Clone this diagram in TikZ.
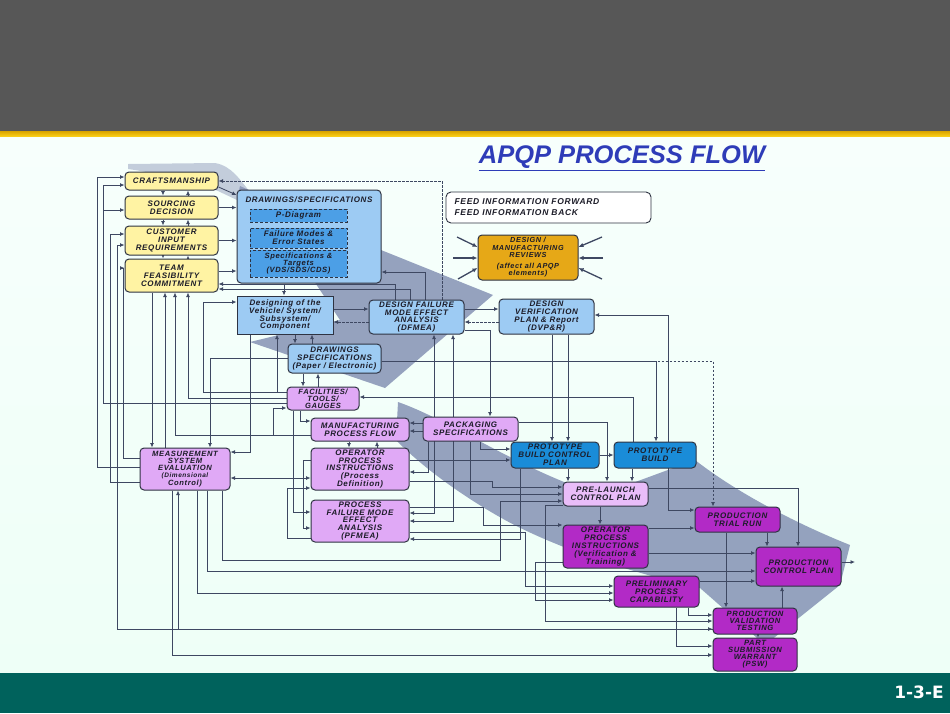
\documentclass[tikz,border=0pt]{standalone}
\usepackage{fontspec}
\setmainfont{Liberation Sans}
\newfontfamily\bx[LetterSpace=8]{Liberation Sans}
\newfontfamily\dejab{DejaVu Sans}
\usetikzlibrary{arrows.meta,calc}
\pgfdeclarelayer{back}\pgfdeclarelayer{bandlayer}\pgfdeclarelayer{lines}
\pgfsetlayers{back,bandlayer,lines,main}
\definecolor{hdrc}{HTML}{575757}
\definecolor{goldA}{HTML}{D9A400}
\definecolor{goldB}{HTML}{FFD51A}
\definecolor{mintA}{HTML}{F7FFFC}
\definecolor{mintB}{HTML}{EEFFF7}
\definecolor{footc}{HTML}{00625C}
\definecolor{titc}{HTML}{2E3CB8}
\definecolor{yelc}{HTML}{FFF3A3}
\definecolor{lbc}{HTML}{9DCBF3}
\definecolor{ibc}{HTML}{4C9FE6}
\definecolor{bluc}{HTML}{1A8CD8}
\definecolor{vioc}{HTML}{E0A9F6}
\definecolor{vioL}{HTML}{E9BDF9}
\definecolor{purc}{HTML}{B22AC6}
\definecolor{goldc}{HTML}{E6A817}
\definecolor{bordc}{HTML}{2E3342}
\definecolor{txtc}{HTML}{1C1C28}
\definecolor{lnc}{HTML}{3E4862}
\definecolor{bandc}{HTML}{8592B4}
\tikzset{
  box/.style={draw=bordc, line width=1pt, rounded corners=4pt, align=center, inner sep=1pt,
    font=\bx\bfseries\itshape\fontsize{8}{7.9}\selectfont, text=txtc},
  tight/.style={font=\bx\bfseries\itshape\fontsize{7.6}{7.1}\selectfont},
  yel/.style={box, fill=yelc},
  lb/.style={box, fill=lbc},
  vio/.style={box, fill=vioc},
  pur/.style={box, fill=purc},
  blu/.style={box, fill=bluc},
  inb/.style={box, fill=ibc, rounded corners=0pt, densely dashed, line width=0.8pt},
  ln/.style={draw=lnc, line width=0.85pt},
  fw/.style={ln, -{Latex[length=4.5pt,width=4pt]}},
  fwb/.style={ln, {Latex[length=4.5pt,width=4pt]}-{Latex[length=4.5pt,width=4pt]}},
  bk/.style={fw, dash pattern=on 2.5pt off 1.5pt},
  rv/.style={draw=lnc, line width=1.3pt, -{Latex[length=5pt,width=4.5pt]}},
  band/.style={fill=bandc, fill opacity=0.85}
}
\begin{document}
\begin{tikzpicture}[x=1pt,y=-1pt]
\useasboundingbox (0,0) rectangle (950,713);
\begin{pgfonlayer}{back}
\fill[hdrc] (0,0) rectangle (950,131);
\shade[top color=goldA, bottom color=goldB] (0,131) rectangle (950,137);
\shade[top color=mintA, bottom color=mintB] (0,137) rectangle (950,673);
\fill[footc] (0,673) rectangle (950,713);
\end{pgfonlayer}
\begin{pgfonlayer}{bandlayer}
\fill[band, fill opacity=0.45] (128,164) -- (215,163) .. controls (232,166) and (240,180) .. (250,192) -- (237,200) -- (218,191) .. controls (190,180) and (150,172) .. (128,169) -- cycle;
\fill[band] (240,186) -- (381,250) -- (493,295) -- (385,388) -- (250,342) -- (340,320) -- (300,260) -- (237,200) -- cycle;
\fill[band] (398,402) .. controls (450,420) and (520,470) .. (600,495) -- (695,460) .. controls (740,495) and (800,525) .. (850,545) -- (840,585) -- (765,645) -- (700,588) .. controls (640,575) and (560,550) .. (505,520) .. controls (460,495) and (420,465) .. (396,440) -- cycle;
\end{pgfonlayer}

% title and footer
\node[font=\bfseries\itshape\fontsize{25.5}{27}\selectfont, text=titc] (title) at (622,158) {\underline{APQP PROCESS FLOW}};
\node[font=\dejab\bfseries\fontsize{17}{17}\selectfont, text=white] (pg) at (919,692) {1-3-E};

% yellow
\node[yel, minimum width=93pt, minimum height=18pt] (craft) at (171.5,181) {CRAFTSMANSHIP};
\node[yel, minimum width=93pt, minimum height=23pt] (sourcing) at (171.5,207.5) {SOURCING\\DECISION};
\node[yel, minimum width=93pt, minimum height=29pt] (customer) at (171.5,240.5) {CUSTOMER\\INPUT\\REQUIREMENTS};
\node[yel, minimum width=93pt, minimum height=33pt] (team) at (171.5,275.5) {TEAM\\FEASIBILITY\\COMMITMENT};
% drawings/specs
\node[lb, minimum width=144pt, minimum height=93pt] (drawspec) at (309,236.5) {};
\node[font=\bx\bfseries\itshape\fontsize{8}{8}\selectfont, text=txtc] (drawspecT) at (309,200) {DRAWINGS/SPECIFICATIONS};
\node[inb, minimum width=97pt, minimum height=13pt] (pdiag) at (298.5,215.5) {P-Diagram};
\node[inb, minimum width=97pt, minimum height=20pt] (failmodes) at (298.5,238) {Failure Modes \&\\Error States};
\node[inb, tight, minimum width=97pt, minimum height=27pt] (spectargets) at (298.5,263.5) {Specifications \&\\Targets\\(VDS/SDS/CDS)};
\node[lb, rounded corners=0pt, minimum width=96pt, minimum height=38pt] (designing) at (285,315) {Designing of the\\Vehicle/ System/\\Subsystem/\\Component};
\node[lb, minimum width=95pt, minimum height=34pt] (dfmea) at (416.5,317) {DESIGN FAILURE\\MODE EFFECT\\ANALYSIS\\(DFMEA)};
\node[lb, minimum width=95pt, minimum height=35pt] (dvp) at (546.5,316.5) {DESIGN\\VERIFICATION\\PLAN \& Report\\(DVP\&R)};
% legend
\node[draw=bordc, line width=0.9pt, fill=white, rounded corners=5pt, minimum width=205pt, minimum height=31pt] (legend) at (548.5,207.5) {};
\node[anchor=west, align=left, font=\bx\bfseries\itshape\fontsize{8.5}{11}\selectfont, text=txtc] (legendtxt) at (451,207) {FEED INFORMATION FORWARD\\FEED INFORMATION BACK};
\node[box, fill=goldc, minimum width=100pt, minimum height=45pt, font=\bx\bfseries\itshape\fontsize{7.3}{7.5}\selectfont] (reviews) at (528,257.5) {DESIGN /\\MANUFACTURING\\REVIEWS\\[3pt](affect all APQP\\elements)};
% middle
\node[lb, minimum width=93pt, minimum height=29pt] (drawpaper) at (334.5,358.5) {DRAWINGS\\SPECIFICATIONS\\(Paper / Electronic)};
\node[vio, tight, minimum width=72pt, minimum height=23pt] (facilities) at (323,398.5) {FACILITIES/\\TOOLS/\\GAUGES};
\node[vio, minimum width=98pt, minimum height=23pt] (mpf) at (360,429.5) {MANUFACTURING\\PROCESS FLOW};
\node[vio, minimum width=95pt, minimum height=24pt] (packaging) at (470.5,429) {PACKAGING\\SPECIFICATIONS};
\node[vio, minimum width=98pt, minimum height=42pt] (opi) at (360,469) {OPERATOR\\PROCESS\\INSTRUCTIONS\\(Process\\Definition)};
\node[vio, minimum width=98pt, minimum height=42pt] (pfmea) at (360,521) {PROCESS\\FAILURE MODE\\EFFECT\\ANALYSIS\\(PFMEA)};
\node[vio, tight, minimum width=90pt, minimum height=42pt] (mse) at (185,469) {MEASUREMENT\\SYSTEM\\EVALUATION\\\fontsize{6.5}{7}\selectfont(Dimensional\\Control)};
\node[blu, minimum width=88pt, minimum height=26pt] (pbcp) at (555,455) {PROTOTYPE\\BUILD CONTROL\\PLAN};
\node[blu, minimum width=82pt, minimum height=26pt] (pb) at (655,455) {PROTOTYPE\\BUILD};
\node[box, fill=vioL, minimum width=85pt, minimum height=24pt] (plcp) at (605.5,494) {PRE-LAUNCH\\CONTROL PLAN};
\node[pur, minimum width=85pt, minimum height=43pt] (opi2) at (605.5,546.5) {OPERATOR\\PROCESS\\INSTRUCTIONS\\(Verification \&\\Training)};
\node[pur, minimum width=85pt, minimum height=25pt] (ptr) at (737.5,519.5) {PRODUCTION\\TRIAL RUN};
\node[pur, minimum width=85pt, minimum height=39pt] (pcp) at (798.5,566.5) {PRODUCTION\\CONTROL PLAN};
\node[pur, minimum width=85pt, minimum height=31pt] (ppc) at (656.5,591.5) {PRELIMINARY\\PROCESS\\CAPABILITY};
\node[pur, tight, minimum width=84pt, minimum height=26pt] (pvt) at (755,621) {PRODUCTION\\VALIDATION\\TESTING};
\node[pur, tight, minimum width=84pt, minimum height=33pt] (psw) at (755,654.5) {PART\\SUBMISSION\\WARRANT\\(PSW)};

\coordinate (pcpout) at (855,562);
\coordinate (ra1) at (457,237); \coordinate (ra2) at (453,258); \coordinate (ra3) at (458,279);
\coordinate (ra4) at (602,237); \coordinate (ra5) at (603,258); \coordinate (ra6) at (602,279);
\coordinate (lg1s) at (619,201); \coordinate (lg1e) at (646,201);
\coordinate (lg2s) at (646,212); \coordinate (lg2e) at (621,212);

\begin{pgfonlayer}{lines}
% legend + reviews
\draw[fw] (lg1s) -- (lg1e);
\draw[bk] (lg2s) -- (lg2e);
\draw[rv] (ra1) -- (reviews.west |- 0,247);
\draw[rv] (ra2) -- (reviews.west |- 0,258);
\draw[rv] (ra3) -- (reviews.west |- 0,268);
\draw[rv] (ra4) -- (reviews.east |- 0,247);
\draw[rv] (ra5) -- (reviews.east |- 0,258);
\draw[rv] (ra6) -- (reviews.east |- 0,268);
% yellow stack
\draw[fw] (craft.south -| 163,0) -- (sourcing.north -| 163,0);
\draw[fw] (sourcing.north -| 188,0) -- (craft.south -| 188,0);
\draw[fw] (sourcing.south -| 163,0) -- (customer.north -| 163,0);
\draw[fw] (customer.north -| 188,0) -- (sourcing.south -| 188,0);
\draw[fw] (customer.south -| 163,0) -- (team.north -| 163,0);
\draw[fw] (team.north -| 188,0) -- (customer.south -| 188,0);
\draw[fw] (craft.east |- 0,187) -- (drawspec.west |- 0,195);
\draw[fw] (sourcing.east) -- (drawspec.west |- sourcing.east);
\draw[fw] (customer.east) -- (drawspec.west |- customer.east);
\draw[fw] (team.east |- 0,271) -- (drawspec.west |- 0,271);
\draw[bk] (dfmea.north -| 442,0) -- (442,181) -- (craft.east |- 0,181);
\draw[fw] (dfmea.north -| 395,0) |- (team.east |- 0,284);
\draw[fw] (dfmea.north -| 410,0) |- (team.east |- 0,289);
\draw[fw] (dfmea.north -| 425,0) |- (drawspec.east |- 0,272);
\draw[fw] (drawspec.south -| 284,0) -- (designing.north -| 284,0);
% designing area
\draw[fw] (facilities.west |- 0,392) -- (203,392) |- (designing.west |- 0,302);
\draw[fw] (facilities.west |- 0,392) -| (designing.south -| 277,0);
\draw[fw] (designing.east |- 0,309) -- (dfmea.west |- 0,309);
\draw[bk] (dfmea.west |- 0,322) -- (designing.east |- 0,322);
\draw[fw] (dfmea.east |- 0,309) -- (dvp.west |- 0,309);
\draw[bk] (dvp.west |- 0,322) -- (dfmea.east |- 0,322);
\draw[fw] (designing.south -| 295,0) -- (drawpaper.north -| 295,0);
\draw[fw] (drawpaper.north -| 312,0) -- (designing.south -| 312,0);
\draw[fw] (drawpaper.south -| 303,0) -- (facilities.north -| 303,0);
\draw[fw] (facilities.north -| 318,0) -- (drawpaper.south -| 318,0);
\draw[fw] (drawpaper.west |- 0,358) -| (mse.north -| 210,0);
\draw[fw] (team.south -| 152,0) -- (mse.north -| 152,0);
\draw[fw] (mse.north -| 165,0) -- (team.south -| 165,0);
\draw[fw] (mpf.west |- 0,435) -| (team.south -| 175,0);
\draw[fw] (mpf.west |- 0,435) -- (273,435) |- (facilities.west |- 0,408);
\draw[fw] (facilities.west |- 0,398) -| (team.south -| 188,0);
% left verticals
\draw[fw] (mse.west |- 0,467) -- (97,467) |- (craft.west |- 0,177);
\draw[fw] (facilities.west |- 0,403) -- (103,403) |- (craft.west |- 0,185);
\draw[fw] (facilities.west |- 0,403) -- (103,403) |- (sourcing.west |- 0,210);
\draw[fw] (mse.west |- 0,482) -| (110,234) -- (customer.west |- 0,234);
\draw[fwb] (pvt.west |- 0,629) -- (117,629) |- (customer.west |- 0,245);
\draw[fw] (pvt.west |- 0,629) -| (mse.south -| 178,0);
\draw[fw] (mse.west |- 0,458) -| (123,268) -- (team.west |- 0,268);
% MSE bottom lines
\draw[fw] (mse.south -| 172,0) |- (psw.west |- 0,655);
\draw[fw] (mse.south -| 197,0) |- (ppc.west |- 0,593);
\draw[fw] (mse.south -| 207,0) |- (pcp.west |- 0,571);
\draw[fw] (mse.south -| 222,0) -- (222,560) -- (500,560) |- (plcp.west |- 0,501);
\draw[fw] (ppc.south -| 676,0) |- (psw.west |- 0,646);
\draw[fw] (ppc.south -| 688,0) |- (pvt.west |- 0,615);
\draw[fw] (plcp.west |- 0,505) -- (545,505) |- (pvt.west |- 0,621);
% MSE / MPF / OPI / PFMEA
\draw[fw] (designing.south -| 250,0) |- (mse.east |- 0,452);
\draw[fwb] (mse.east |- 0,478) -- (opi.west |- 0,478);
\draw[fw] (facilities.south -| 300,0) |- (mpf.west |- 0,421);
\draw[fw] (facilities.south -| 293,0) |- (pfmea.west |- 0,512);
\draw[fw] (opi.west |- 0,460) -- (303,460) |- (pfmea.west |- 0,528);
\draw[fw] (pfmea.west |- 0,538) -| (287,488) -- (opi.west |- 0,488);
\draw[fw] (mpf.south -| 349,0) -- (opi.north -| 349,0);
\draw[fw] (opi.north -| 377,0) -- (mpf.south -| 377,0);
\draw[fw] (packaging.west |- 0,423) -- (mpf.east |- 0,423);
\draw[fw] (packaging.west |- 0,431) -- (mpf.east |- 0,431);
\draw[fw] (packaging.south -| 428,0) |- (opi.east |- 0,472);
\draw[fwb] (dfmea.south -| 434,0) |- (pfmea.east |- 0,513);
\draw[fwb] (dfmea.south -| 453,0) |- (pfmea.east |- 0,521);
\draw[fw] (pbcp.south -| 520,0) |- (pfmea.east |- 0,539);
\draw[fw] (dfmea.east |- 0,330) -| (packaging.north -| 490,0);
% right part
\draw[bk] (drawpaper.east |- 0,361) -- (713,361) -- (ptr.north -| 713,0);
\draw[fw] (drawpaper.east |- 0,361) -| (pb.north -| 656,0);
\draw[fw] (pb.north -| 633,0) |- (facilities.east |- 0,397);
\draw[fw] (packaging.east |- 0,422) -| (plcp.north -| 607,0);
\draw[fw] (packaging.south -| 480,0) |- (pbcp.west |- 0,449);
\draw[fw] (dvp.south -| 552,0) -- (pbcp.north -| 552,0);
\draw[fw] (dvp.south -| 568,0) -- (pbcp.north -| 568,0);
\draw[fw] (pbcp.east) -- (pb.west |- pbcp.east);
\draw[fw] (pb.south -| 632,0) -- (plcp.north -| 632,0);
\draw[fw] (pbcp.south -| 568,0) -- (plcp.north -| 568,0);
\draw[fw] (plcp.south -| 600,0) -- (opi2.north -| 600,0);
\draw[fw] (plcp.east |- 0,488) -| (pcp.north -| 798,0);
\draw[fwb] (dvp.east |- 0,315) -- (668,315) |- (ptr.west |- 0,510);
\draw[fw] (opi2.east |- 0,528) -- (ptr.west |- 0,528);
\draw[fw] (ptr.south -| 767,0) -- (pcp.north -| 767,0);
\draw[fw] (ptr.south -| 726,0) -- (pvt.north -| 726,0);
\draw[fw] (pvt.north -| 782,0) -- (pcp.south -| 782,0);
\draw[fw] (pvt.south -| 758,0) -- (psw.north -| 758,0);
\draw[fw] (opi2.east |- 0,553) -- (pcp.west |- 0,553);
\draw[fw] (ppc.east |- 0,581) -- (pcp.west |- 0,581);
\draw[fw] (pcp.east |- 0,562) -- (pcpout);
\draw[fw] (opi.east |- 0,481) -- (492,481) |- (plcp.west |- 0,487);
\draw[fw] (packaging.south -| 470,0) |- (plcp.west |- 0,494);
\draw[fw] (pfmea.east |- 0,507) -- (483,507) |- (opi2.west |- 0,525);
\draw[fw] (opi.east |- 0,460) -- (pbcp.west |- 0,460);
\draw[fw] (pfmea.east |- 0,532) -- (525,532) |- (ppc.west |- 0,586);
\draw[fw] (opi2.west |- 0,562) -- (535,562) |- (ppc.west |- 0,600);
\end{pgfonlayer}
\end{tikzpicture}
\end{document}
